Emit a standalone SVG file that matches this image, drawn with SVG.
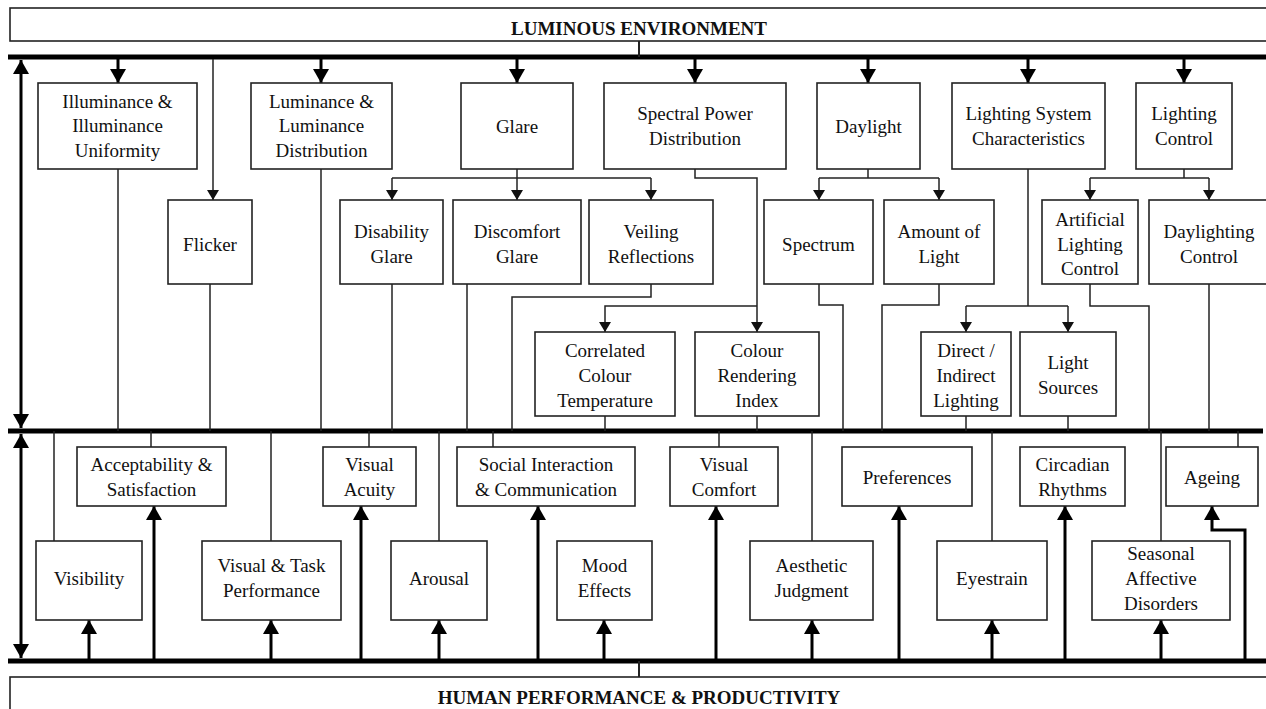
<svg xmlns="http://www.w3.org/2000/svg" width="1266" height="709" viewBox="0 0 1266 709">
<style>
.box{fill:#fff;stroke:#222;stroke-width:1.6}
.t{font-family:"Liberation Serif","Times New Roman",serif;font-size:19px;fill:#111;text-anchor:middle}
.h{font-family:"Liberation Serif","Times New Roman",serif;font-size:19px;font-weight:bold;fill:#111;text-anchor:middle}
.bus{stroke:#000;stroke-width:5;fill:none}
.thin{stroke:#222;stroke-width:1.5;fill:none}
.thick{stroke:#000;stroke-width:3;fill:none}
</style>
<defs>
<marker id="ah" markerUnits="userSpaceOnUse" viewBox="0 0 14 16" refX="14" refY="8" markerWidth="14" markerHeight="16" orient="auto-start-reverse">
<path d="M0,0 L14,8 L0,16 z" fill="#000"/>
</marker>
<marker id="at" markerUnits="userSpaceOnUse" viewBox="0 0 10 12" refX="10" refY="6" markerWidth="10" markerHeight="12" orient="auto-start-reverse">
<path d="M0,0 L10,6 L0,12 z" fill="#111"/>
</marker>
</defs>

<g id="connectors">
<line class="bus" x1="8" y1="57" x2="1266" y2="57"/>
<line class="bus" x1="8" y1="431" x2="1263" y2="431"/>
<line class="bus" x1="8" y1="661" x2="1266" y2="661"/>
<line class="thin" x1="639" y1="41" x2="639" y2="57" style="stroke-width:2"/>
<line class="thin" x1="639" y1="661" x2="639" y2="677" style="stroke-width:2"/>
<line class="thick" x1="21" y1="60" x2="21" y2="428" marker-start="url(#ah)" marker-end="url(#ah)"/>
<line class="thick" x1="21" y1="434" x2="21" y2="658" marker-start="url(#ah)" marker-end="url(#ah)"/>
<line class="thick" x1="118" y1="59" x2="118" y2="83" marker-end="url(#ah)"/>
<line class="thick" x1="321" y1="59" x2="321" y2="83" marker-end="url(#ah)"/>
<line class="thick" x1="517" y1="59" x2="517" y2="83" marker-end="url(#ah)"/>
<line class="thick" x1="695" y1="59" x2="695" y2="83" marker-end="url(#ah)"/>
<line class="thick" x1="868" y1="59" x2="868" y2="83" marker-end="url(#ah)"/>
<line class="thick" x1="1028" y1="59" x2="1028" y2="83" marker-end="url(#ah)"/>
<line class="thick" x1="1184" y1="59" x2="1184" y2="83" marker-end="url(#ah)"/>
<line class="thin" x1="213" y1="59" x2="213" y2="200" marker-end="url(#at)"/>
<line class="thin" x1="517" y1="169" x2="517" y2="178"/>
<line class="thin" x1="392" y1="178" x2="651" y2="178"/>
<line class="thin" x1="392" y1="178" x2="392" y2="200" marker-end="url(#at)"/>
<line class="thin" x1="517" y1="178" x2="517" y2="200" marker-end="url(#at)"/>
<line class="thin" x1="651" y1="178" x2="651" y2="200" marker-end="url(#at)"/>
<line class="thin" x1="868" y1="169" x2="868" y2="178"/>
<line class="thin" x1="819" y1="178" x2="939" y2="178"/>
<line class="thin" x1="819" y1="178" x2="819" y2="200" marker-end="url(#at)"/>
<line class="thin" x1="939" y1="178" x2="939" y2="200" marker-end="url(#at)"/>
<line class="thin" x1="1184" y1="169" x2="1184" y2="178"/>
<line class="thin" x1="1090" y1="178" x2="1209" y2="178"/>
<line class="thin" x1="1090" y1="178" x2="1090" y2="200" marker-end="url(#at)"/>
<line class="thin" x1="1209" y1="178" x2="1209" y2="200" marker-end="url(#at)"/>
<polyline class="thin" points="695,169 695,178 757,178 757,332" marker-end="url(#at)"/>
<polyline class="thin" points="757,306 605,306 605,332" marker-end="url(#at)"/>
<line class="thin" x1="1028" y1="169" x2="1028" y2="306"/>
<line class="thin" x1="966" y1="306" x2="1068" y2="306"/>
<line class="thin" x1="966" y1="306" x2="966" y2="332" marker-end="url(#at)"/>
<line class="thin" x1="1068" y1="306" x2="1068" y2="332" marker-end="url(#at)"/>
<line class="thin" x1="118" y1="169" x2="118" y2="431"/>
<line class="thin" x1="210" y1="284" x2="210" y2="431"/>
<line class="thin" x1="321" y1="169" x2="321" y2="431"/>
<line class="thin" x1="392" y1="284" x2="392" y2="431"/>
<line class="thin" x1="467" y1="284" x2="467" y2="431"/>
<polyline class="thin" points="651,284 651,297 512,297 512,431"/>
<line class="thin" x1="605" y1="416" x2="605" y2="431"/>
<line class="thin" x1="757" y1="416" x2="757" y2="431"/>
<polyline class="thin" points="819,284 819,305 843,305 843,431"/>
<polyline class="thin" points="939,284 939,305 882,305 882,431"/>
<line class="thin" x1="966" y1="416" x2="966" y2="431"/>
<line class="thin" x1="1068" y1="416" x2="1068" y2="431"/>
<polyline class="thin" points="1090,284 1090,306 1149,306 1149,431"/>
<line class="thin" x1="1209" y1="284" x2="1209" y2="431"/>
<line class="thin" x1="54" y1="431" x2="54" y2="541"/>
<line class="thin" x1="151" y1="431" x2="151" y2="447"/>
<line class="thin" x1="271" y1="431" x2="271" y2="541"/>
<line class="thin" x1="369" y1="431" x2="369" y2="447"/>
<line class="thin" x1="439" y1="431" x2="439" y2="541"/>
<line class="thin" x1="493" y1="431" x2="493" y2="447"/>
<line class="thin" x1="719" y1="431" x2="719" y2="447"/>
<line class="thin" x1="812" y1="431" x2="812" y2="541"/>
<line class="thin" x1="992" y1="431" x2="992" y2="541"/>
<line class="thin" x1="1161" y1="431" x2="1161" y2="541"/>
<line class="thin" x1="1238" y1="431" x2="1238" y2="447"/>
<line class="thick" x1="89" y1="659" x2="89" y2="620" marker-end="url(#ah)"/>
<line class="thick" x1="154" y1="659" x2="154" y2="506" marker-end="url(#ah)"/>
<line class="thick" x1="271" y1="659" x2="271" y2="620" marker-end="url(#ah)"/>
<line class="thick" x1="361" y1="659" x2="361" y2="506" marker-end="url(#ah)"/>
<line class="thick" x1="439" y1="659" x2="439" y2="620" marker-end="url(#ah)"/>
<line class="thick" x1="538" y1="659" x2="538" y2="506" marker-end="url(#ah)"/>
<line class="thick" x1="604" y1="659" x2="604" y2="620" marker-end="url(#ah)"/>
<line class="thick" x1="716" y1="659" x2="716" y2="506" marker-end="url(#ah)"/>
<line class="thick" x1="812" y1="659" x2="812" y2="620" marker-end="url(#ah)"/>
<line class="thick" x1="899" y1="659" x2="899" y2="506" marker-end="url(#ah)"/>
<line class="thick" x1="992" y1="659" x2="992" y2="620" marker-end="url(#ah)"/>
<line class="thick" x1="1065" y1="659" x2="1065" y2="506" marker-end="url(#ah)"/>
<line class="thick" x1="1161" y1="659" x2="1161" y2="620" marker-end="url(#ah)"/>
<polyline class="thick" points="1245,659 1245,530 1212,530 1212,506" marker-end="url(#ah)"/>
</g>

<g id="luminous-environment"><rect class="box" x="10" y="8" width="1270" height="33"/><text class="h" x="639" y="35">LUMINOUS ENVIRONMENT</text></g>
<g id="human-performance"><rect class="box" x="10" y="677" width="1270" height="50"/><text class="h" x="639" y="704">HUMAN PERFORMANCE &amp; PRODUCTIVITY</text></g>

<g id="illuminance"><rect class="box" x="38" y="83" width="159" height="86"/><text class="t" x="117.5" y="108">Illuminance &amp;</text><text class="t" x="117.5" y="132">Illuminance</text><text class="t" x="117.5" y="157">Uniformity</text></g>
<g id="luminance"><rect class="box" x="251" y="83" width="141" height="86"/><text class="t" x="321.5" y="108">Luminance &amp;</text><text class="t" x="321.5" y="132">Luminance</text><text class="t" x="321.5" y="157">Distribution</text></g>
<g id="glare"><rect class="box" x="461" y="83" width="112" height="86"/><text class="t" x="517" y="133">Glare</text></g>
<g id="spd"><rect class="box" x="604" y="83" width="182" height="86"/><text class="t" x="695" y="120">Spectral Power</text><text class="t" x="695" y="145">Distribution</text></g>
<g id="daylight"><rect class="box" x="817" y="83" width="103" height="86"/><text class="t" x="868.5" y="133">Daylight</text></g>
<g id="lsc"><rect class="box" x="952" y="83" width="153" height="86"/><text class="t" x="1028.5" y="120">Lighting System</text><text class="t" x="1028.5" y="145">Characteristics</text></g>
<g id="lighting-control"><rect class="box" x="1136" y="83" width="96" height="86"/><text class="t" x="1184" y="120">Lighting</text><text class="t" x="1184" y="145">Control</text></g>

<g id="flicker"><rect class="box" x="168" y="200" width="84" height="84"/><text class="t" x="210" y="251">Flicker</text></g>
<g id="disability-glare"><rect class="box" x="340" y="200" width="103" height="84"/><text class="t" x="391.5" y="238">Disability</text><text class="t" x="391.5" y="263">Glare</text></g>
<g id="discomfort-glare"><rect class="box" x="453" y="200" width="128" height="84"/><text class="t" x="517" y="238">Discomfort</text><text class="t" x="517" y="263">Glare</text></g>
<g id="veiling"><rect class="box" x="589" y="200" width="124" height="84"/><text class="t" x="651" y="238">Veiling</text><text class="t" x="651" y="263">Reflections</text></g>
<g id="spectrum"><rect class="box" x="764" y="200" width="109" height="84"/><text class="t" x="818.5" y="251">Spectrum</text></g>
<g id="amount"><rect class="box" x="884" y="200" width="110" height="84"/><text class="t" x="939" y="238">Amount of</text><text class="t" x="939" y="263">Light</text></g>
<g id="artificial"><rect class="box" x="1042" y="200" width="96" height="84"/><text class="t" x="1090" y="226">Artificial</text><text class="t" x="1090" y="251">Lighting</text><text class="t" x="1090" y="275">Control</text></g>
<g id="daylighting-control"><rect class="box" x="1149" y="200" width="120" height="84"/><text class="t" x="1209" y="238">Daylighting</text><text class="t" x="1209" y="263">Control</text></g>

<g id="cct"><rect class="box" x="535" y="332" width="140" height="84"/><text class="t" x="605" y="357">Correlated</text><text class="t" x="605" y="382">Colour</text><text class="t" x="605" y="407">Temperature</text></g>
<g id="cri"><rect class="box" x="695" y="332" width="124" height="84"/><text class="t" x="757" y="357">Colour</text><text class="t" x="757" y="382">Rendering</text><text class="t" x="757" y="407">Index</text></g>
<g id="direct-indirect"><rect class="box" x="921" y="332" width="90" height="84"/><text class="t" x="966" y="357">Direct /</text><text class="t" x="966" y="382">Indirect</text><text class="t" x="966" y="407">Lighting</text></g>
<g id="light-sources"><rect class="box" x="1020" y="332" width="96" height="84"/><text class="t" x="1068" y="369">Light</text><text class="t" x="1068" y="394">Sources</text></g>

<g id="acceptability"><rect class="box" x="77" y="447" width="149" height="59"/><text class="t" x="151.5" y="471">Acceptability &amp;</text><text class="t" x="151.5" y="496">Satisfaction</text></g>
<g id="visual-acuity"><rect class="box" x="323" y="447" width="93" height="59"/><text class="t" x="369.5" y="471">Visual</text><text class="t" x="369.5" y="496">Acuity</text></g>
<g id="social"><rect class="box" x="457" y="447" width="178" height="59"/><text class="t" x="546" y="471">Social Interaction</text><text class="t" x="546" y="496">&amp; Communication</text></g>
<g id="visual-comfort"><rect class="box" x="670" y="447" width="108" height="59"/><text class="t" x="724" y="471">Visual</text><text class="t" x="724" y="496">Comfort</text></g>
<g id="preferences"><rect class="box" x="842" y="447" width="130" height="59"/><text class="t" x="907" y="484">Preferences</text></g>
<g id="circadian"><rect class="box" x="1020" y="447" width="105" height="59"/><text class="t" x="1072.5" y="471">Circadian</text><text class="t" x="1072.5" y="496">Rhythms</text></g>
<g id="ageing"><rect class="box" x="1166" y="447" width="92" height="59"/><text class="t" x="1212" y="484">Ageing</text></g>

<g id="visibility"><rect class="box" x="36" y="541" width="106" height="79"/><text class="t" x="89" y="585">Visibility</text></g>
<g id="vtp"><rect class="box" x="202" y="541" width="139" height="79"/><text class="t" x="271.5" y="572">Visual &amp; Task</text><text class="t" x="271.5" y="597">Performance</text></g>
<g id="arousal"><rect class="box" x="391" y="541" width="96" height="79"/><text class="t" x="439" y="585">Arousal</text></g>
<g id="mood"><rect class="box" x="557" y="541" width="95" height="79"/><text class="t" x="604.5" y="572">Mood</text><text class="t" x="604.5" y="597">Effects</text></g>
<g id="aesthetic"><rect class="box" x="750" y="541" width="123" height="79"/><text class="t" x="811.5" y="572">Aesthetic</text><text class="t" x="811.5" y="597">Judgment</text></g>
<g id="eyestrain"><rect class="box" x="937" y="541" width="110" height="79"/><text class="t" x="992" y="585">Eyestrain</text></g>
<g id="sad"><rect class="box" x="1092" y="541" width="138" height="79"/><text class="t" x="1161" y="560">Seasonal</text><text class="t" x="1161" y="585">Affective</text><text class="t" x="1161" y="610">Disorders</text></g>
</svg>
